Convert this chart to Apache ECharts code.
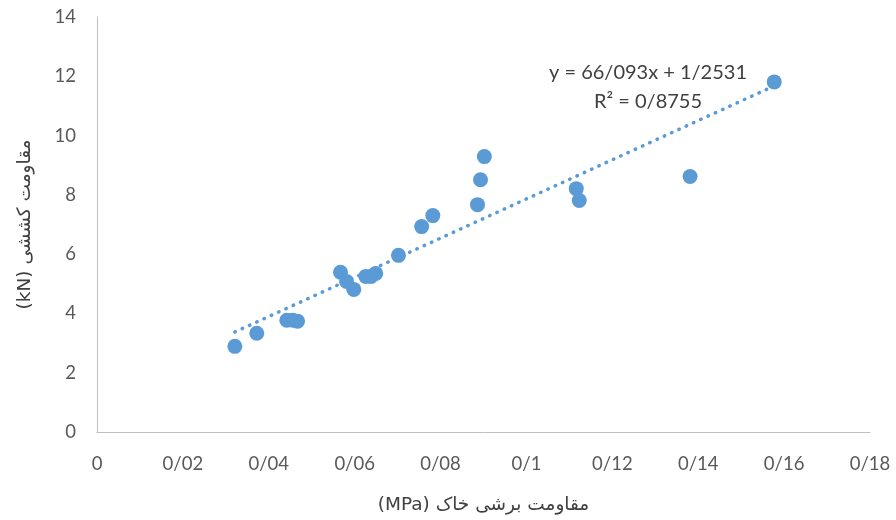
<!DOCTYPE html>
<html>
<head>
<meta charset="utf-8">
<script src="https://cdn.jsdelivr.net/npm/echarts@6/dist/echarts.min.js"></script>
<style>html,body{margin:0;padding:0;background:#fff}#c{width:896px;height:520px}</style>
</head>
<body>
<div id="c"></div>
<script>
var xValues = [0.0321, 0.0372, 0.0442, 0.0456, 0.0467, 0.0567, 0.0581, 0.0598, 0.0626, 0.0638, 0.0649, 0.0702, 0.0756, 0.0782, 0.0886, 0.0893, 0.0902, 0.1116, 0.1123, 0.1381, 0.1577];
var yValues = [2.89, 3.33, 3.77, 3.77, 3.74, 5.39, 5.08, 4.81, 5.25, 5.25, 5.35, 5.96, 6.93, 7.30, 7.67, 8.51, 9.29, 8.21, 7.81, 8.62, 11.81];
var trendCoef = [66.093, 1.2531];
var equationLines = ['y = 66/093x + 1/2531', 'R² = 0/8755'];
var xTitle = '(MPa) مقاومت برشی خاک';
var yTitle = '(kN) مقاومت کششی';

var pts = xValues.map(function (x, i) { return [x, yValues[i]]; });
var xmin = Math.min.apply(null, xValues), xmax = Math.max.apply(null, xValues);
var trend = [[xmin, trendCoef[0] * xmin + trendCoef[1]], [xmax, trendCoef[0] * xmax + trendCoef[1]]];
var fmt = function (v) { return String(parseFloat(v.toFixed(4))).replace('.', '/'); };
var font = 'Lato, "Open Sans", sans-serif';
var arFont = '"DejaVu Sans", sans-serif';

var chart = echarts.init(document.getElementById('c'));
chart.setOption({
  animation: false,
  grid: { left: 97, right: 26, top: 17, bottom: 87 },
  xAxis: {
    type: 'value', min: 0, max: 0.18, interval: 0.02,
    axisLine: { show: true, lineStyle: { color: '#bfbfbf', width: 1 } },
    axisTick: { show: false }, splitLine: { show: false },
    axisLabel: { formatter: fmt, color: '#595959', fontSize: 18.5, fontFamily: font, margin: 23 },
    name: xTitle, nameLocation: 'middle', nameGap: 64,
    nameTextStyle: { color: '#404040', fontSize: 18.5, fontFamily: arFont }
  },
  yAxis: {
    type: 'value', min: 0, max: 14, interval: 2,
    axisLine: { show: true, lineStyle: { color: '#bfbfbf', width: 1 } },
    axisTick: { show: false }, splitLine: { show: false },
    axisLabel: { color: '#595959', fontSize: 18.5, fontFamily: font, margin: 21 },
    name: yTitle, nameLocation: 'middle', nameGap: 62, nameRotate: 90,
    nameTextStyle: { color: '#404040', fontSize: 18.5, fontFamily: arFont }
  },
  series: [
    {
      type: 'line', data: trend, symbol: 'none', silent: true,
      lineStyle: { color: '#5b9bd5', width: 3.5, type: [0.5, 7.5], cap: 'round' },
      z: 1
    },
    {
      type: 'scatter', data: pts, symbolSize: 15,
      itemStyle: { color: '#5b9bd5', opacity: 1 },
      z: 2
    }
  ],
  graphic: [
    { type: 'text', x: 648, y: 73, style: { text: equationLines[0], fill: '#404040', font: '20px ' + font, align: 'center', verticalAlign: 'middle' } },
    { type: 'text', x: 648, y: 102, style: { text: equationLines[1], fill: '#404040', font: '20px ' + font, align: 'center', verticalAlign: 'middle' } }
  ]
});
</script>
</body>
</html>
